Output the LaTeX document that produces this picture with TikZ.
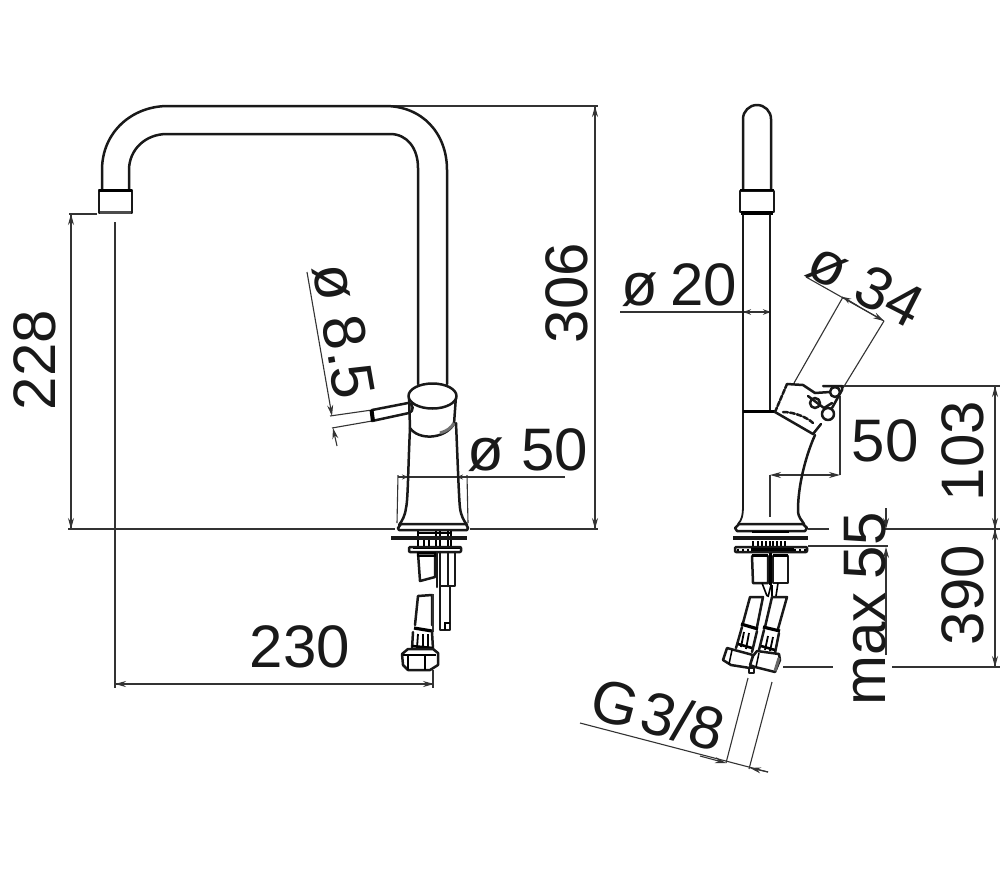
\documentclass[tikz,border=0pt]{standalone}
\usepackage{fontspec}
\setmainfont{Liberation Sans}
\usetikzlibrary{arrows.meta}
\tikzset{
  ol/.style={line width=2.5pt,line join=round,line cap=round,draw=black!90},
  ofill/.style={ol,fill=white},
  fat/.style={line width=4.5pt,draw=black!90},
  dim/.style={line width=1.1pt,draw=black!80},
  arr/.style={dim,-{Stealth[length=11pt,width=6pt]}},
  sarr/.style={dim,-{Stealth[length=8pt,width=5.5pt]}},
  lab/.style={inner sep=0pt,font=\fontsize{60}{60}\selectfont,text=black!90},
}
\begin{document}
\begin{tikzpicture}[x=1pt,y=-1pt]
\useasboundingbox (0,0) rectangle (1000,879);
\fill[white] (0,0) rectangle (1000,879);

% ---------- left view: dimension lines ----------
\draw[dim] (68,529) -- (395,529);
\draw[dim] (470,529) -- (598,529);
\draw[dim] (69,214) -- (97,214);
\draw[arr] (71,529) -- (71,214);
\draw[arr] (71,214) -- (71,529);
\draw[dim] (115,222) -- (115,688);
\draw[dim] (433,670) -- (433,688);
\draw[arr] (115,684) -- (434,684);
\draw[arr] (434,684) -- (115,684);
\draw[dim] (385,106) -- (598,106);
\draw[arr] (595,529) -- (595,106);
\draw[arr] (595,106) -- (595,529);
% o 50
\draw[dim] (398,475) -- (397,523);
\draw[dim] (467,475) -- (468,523);
\draw[dim] (398,477) -- (565,477);
\draw[dim,-{Stealth[length=6pt,width=5pt]}] (398,477) -- (408,477);
\draw[dim,-{Stealth[length=6pt,width=5pt]}] (467,477) -- (457,477);
% o 8.5
\draw[arr] (307,272) -- (332,416);
\draw[arr] (337,446) -- (333,428);
\draw[dim] (330,416) -- (372,410);
\draw[dim] (332,428) -- (372,421);

% ---------- left view: spout ----------
\draw[ol] (102,190) -- (102,170) .. controls (102,132) and (132,106) .. (168,106) -- (385,106)
  .. controls (422,106) and (447,133) .. (447,170) -- (447,384);
\draw[ol] (129,190) -- (129,170) .. controls (129,150) and (145,134) .. (167,134) -- (390,134)
  .. controls (407,134) and (418,148) .. (418,168) -- (418,384);
\draw[ofill] (99,190) -- (132,190) -- (132,213) -- (99,213) -- cycle;
\draw[line width=3pt] (99,190.5) -- (132,190.5);
\draw[line width=3.5pt,draw=black!70] (100,212.5) -- (131,212.5);

% body
\draw[ol] (410,428) .. controls (408,470) and (408,500) .. (406,508) .. controls (405,516) and (402,521) .. (399,525);
\draw[ol] (456,423) .. controls (458,470) and (459,500) .. (460,508) .. controls (461,516) and (464,521) .. (467,525);
% handle
\draw[ofill] (372,410) -- (408,403) .. controls (414,403) and (414,412) .. (409,413) -- (372,421) -- cycle;
\draw[line width=4pt] (371.5,410) -- (373,421);
% head
\draw[ol] (409,396) -- (410,428) .. controls (418,440) and (444,440) .. (454,424) -- (456,396);
\draw[line width=3pt,draw=black!55] (440,433) .. controls (447,431) and (451,428) .. (454,423);
\draw[ofill] (432.5,396) ellipse [x radius=24, y radius=12.5];
% base
\draw[ol,fill=white] (398,528) -- (401,524) -- (466,524) -- (468,528) -- (467,530) -- (399,530) -- cycle;
\draw[line width=1.6pt] (418,531) -- (418,548) (424,538) -- (424,548) (429,538) -- (429,548)
  (436,531) -- (436,548) (440,531) -- (440,548) (448,531) -- (448,548) (451,531) -- (451,548);
\draw[line width=2pt] (417,532.5) -- (451,532.5);
\draw[fat] (391,538) -- (467,538);
\draw[ol,fill=white,rounded corners=1pt] (409,547) rectangle (461,552);
\draw[line width=1.6pt] (413,548.5) -- (460,548.5);
% valve blocks
\draw[ol] (418,553) -- (420,581) -- (435,577) -- (435,553);
\draw[line width=1.6pt,fill=black!60] (418,553) rectangle (435,556);
\draw[ol] (437,552) -- (437,587);
\draw[ol] (455,552) -- (455,586) -- (440,586) -- (440,552);
\draw[ol] (448,552) -- (448,586);
% thin pipe
\draw[ol] (440,586) -- (440,630) -- (450,630) -- (450,586);
\draw[line width=1.4pt] (445,630) -- (445,623) -- (450,623);
% hose
\draw[ol] (415,625) -- (418,596) -- (432,595) -- (432,625);
\draw[dim] (433,594) -- (433,632);
\draw[line width=3.2pt] (414,628) -- (432,631);
\draw[ol] (413,632) -- (412,649) (432,632) -- (433,649);
\draw[line width=1.8pt] (418,634) -- (417,648) (423,634) -- (423,648) (428,634) -- (428,648);
\draw[line width=2.5pt] (412,646) -- (433,648);
\draw[ofill] (402,654) -- (408,649) -- (433,649) -- (438,653) -- (438,665) -- (430,670) -- (408,670) -- (403,665) -- cycle;
\draw[line width=1.5pt] (408,655) -- (408,670) (425,655) -- (425,670) (403,655) -- (436,655);

% ---------- right view: dimension lines ----------
\draw[dim] (620,312) -- (771,312);
\draw[sarr] (752,312) -- (743,312);
\draw[sarr] (762,312) -- (771,312);
% o 34
\draw[dim] (806,277) -- (884,321);
\draw[arr] (842,297) -- (884,321);
\draw[sarr] (858,306) -- (843,297);
\draw[dim] (794,383) -- (843,297);
\draw[dim] (843,388) -- (884,321);
% 103 / 390
\draw[dim] (835,386) -- (1000,386);
\draw[arr] (995,529) -- (995,386);
\draw[arr] (995,386) -- (995,529);
\draw[arr] (995,667) -- (995,529);
\draw[arr] (995,529) -- (995,667);
\draw[dim] (808,529) -- (829,529);
\draw[dim] (883,529) -- (1000,529);
\draw[dim] (783,667) -- (833,667);
\draw[dim] (892,667) -- (1000,667);
% 50
\draw[dim] (770,475) -- (770,517);
\draw[dim] (840,396) -- (840,475);
\draw[arr] (805,475) -- (770,475);
\draw[arr] (805,475) -- (840,475);
% max 55
\draw[dim] (808,546) -- (888,546);
\draw[arr] (886,508) -- (886,529);
\draw[arr] (886,655) -- (886,547);
% G 3/8
\draw[dim] (580,723) -- (768,772);
\draw[arr] (700,756) -- (726,763);
\draw[arr] (768,772) -- (750,768);
\draw[dim] (748,678) -- (726,763);
\draw[dim] (772,682) -- (749,769);

% ---------- right view: tap ----------
\draw[ol] (743,190) -- (743,119) arc[start angle=180,end angle=360,radius=14] -- (771,190);
\draw[ofill] (740,191) rectangle (774,212);
\draw[line width=2.8pt] (740,190) -- (774,190);
\draw[line width=3.5pt] (741,213) -- (773,213);
\draw[ol,line width=1.8pt] (743,215) -- (743,505) .. controls (743,515) and (742,520) .. (738,524);
\draw[ol,line width=1.8pt] (770,215) -- (770,411);
\draw[line width=3pt] (743,411) -- (775,411);
% lever
\draw[ol,dash pattern=on 5pt off 1.5pt] (775,412) -- (787,384);
\draw[ol] (787,384) -- (803,385) -- (815,393) -- (830,392);
\draw[ol] (775,412) -- (813,434) -- (821,424);
\draw[ol,dash pattern=on 5pt off 2pt] (783,412) .. controls (795,412) and (808,418) .. (813,423);
\draw[ol] (815,403) circle[radius=5];
\draw[ol] (808,396) -- (824,408) -- (832,403);
\draw[ofill] (835,392) circle[radius=5];
\draw[ofill] (828,414) circle[radius=6];
\draw[ol] (823,386) -- (842,386) -- (842,390) -- (832,408);
% curved neck
\draw[ol] (815,435) .. controls (806,455) and (798,485) .. (798,510) .. controls (798,518) and (802,520) .. (804,524);
% base
\draw[ol,fill=white] (735,528) -- (739,524) -- (803,524) -- (807,528) -- (805,531) -- (737,531) -- cycle;
\draw[fat] (733,538) -- (808,538);
\draw[line width=1.6pt] (752,532) -- (789,532);
\foreach \xx in {753,758,762,766,770,773,777,781,785}{
  \draw[line width=1.5pt] (\xx,541) -- (\xx,546);
}
\draw[ol,fill=white,rounded corners=1pt] (735,547) rectangle (807,552);
\draw[line width=2pt,dash pattern=on 2pt off 3pt] (737,549.5) -- (752,549.5) (794,549.5) -- (806,549.5);
\draw[line width=3pt] (751,549.5) -- (794,549.5);
% valve blocks
\draw[ol] (752,556) -- (753,583) -- (768,583) -- (768,556);
\draw[ol] (773,556) -- (773,583) -- (788,583) -- (788,556);
\draw[line width=2.8pt] (752,555.5) -- (768,555.5) (773,555.5) -- (788,555.5);
\draw[line width=1.6pt] (770,553) -- (770,585) (771,553) -- (771,585);
\draw[line width=1.6pt] (762,583) -- (767,596) (771,585) -- (768,597) (772,585) -- (772,596) (778,583) -- (776,596);
% hoses
\draw[ol] (743,623) -- (750,597) -- (763,597) -- (757,627);
\draw[ol] (765,627) -- (772,597) -- (787,597) -- (778,629);
\draw[line width=3.2pt] (741,624) -- (758,629) (763,627) -- (780,631);
\draw[ol] (742,627) -- (736,648) (757,631) -- (752,652);
\draw[ol] (764,630) -- (759,650) (779,633) -- (775,653);
\draw[line width=1.8pt] (744,632) -- (741,647) (749,633) -- (746,649);
\draw[line width=1.8pt] (768,636) -- (765,650) (773,637) -- (770,651);
\draw[line width=2.6pt] (738,644) -- (752,648) (761,646) -- (775,650);
\draw[ofill] (727,648) -- (753,655) -- (750,668) -- (731,665) -- (723,660) -- cycle;
\draw[line width=1.5pt] (732,650) -- (729,664);
\draw[ofill] (757,651) -- (779,654) -- (780,660) -- (775,672) -- (755,667) -- (750,665) -- (753,656) -- cycle;
\draw[line width=1.5pt] (759,653) -- (756,667);
\draw[line width=3pt,draw=black!60] (779,658) -- (775,671);
\draw[ol,line width=1.6pt,fill=white] (749,668) rectangle (754,673);

% ---------- labels ----------
\node[lab,rotate=90] (t228) at (35,360) {228};
\node[lab] (t230) at (300,647) {230};
\node[lab,rotate=90] (t306) at (567,293) {306};
\node[lab] (t50a) at (528,450) {ø 50};
\node[lab,rotate=-80] (t85) at (344,331) {ø 8.5};
\node[lab] (t20) at (679,285) {ø\hspace{12.5pt}20};
\node[lab,rotate=-27] (t34) at (866,284) {ø 34};
\node[lab] (t50b) at (885,441) {50};
\node[lab,rotate=90] (t103) at (963,451) {103};
\node[lab,rotate=90] (t390) at (963,595) {390};
\node[lab,rotate=90] (tmax) at (865,609) {max\hspace{13pt}55};
\node[lab,rotate=-15] (tg) at (658,714) {G\hspace{5pt}3/8};
\end{tikzpicture}
\end{document}
